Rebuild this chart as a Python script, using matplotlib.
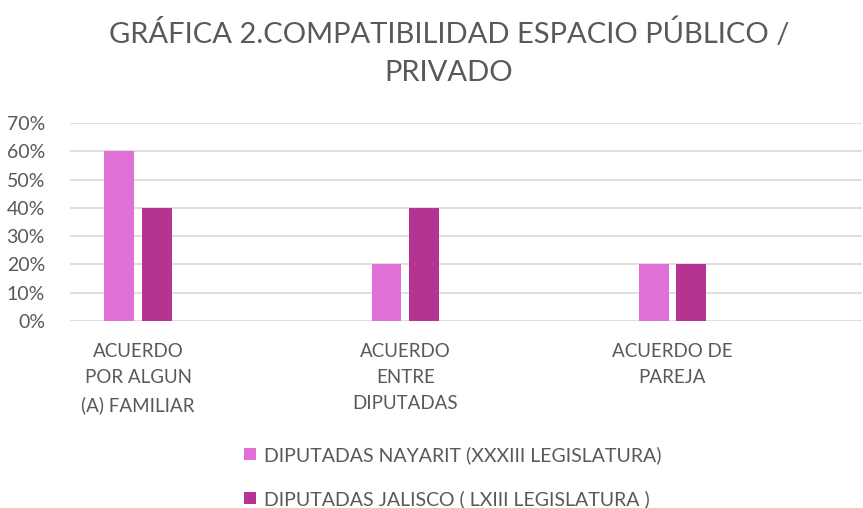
import matplotlib.pyplot as plt
import numpy as np
from matplotlib.ticker import PercentFormatter

categorias = ["ACUERDO\nPOR ALGUN\n(A) FAMILIAR", "ACUERDO\nENTRE\nDIPUTADAS", "ACUERDO DE\nPAREJA"]
nayarit = [0.60, 0.20, 0.20]
jalisco = [0.40, 0.40, 0.20]
series = ["DIPUTADAS NAYARIT (XXXIII LEGISLATURA)", "DIPUTADAS JALISCO ( LXIII LEGISLATURA )"]

gris = "#595959"
plt.rcParams['font.family'] = ['Lato', 'DejaVu Sans']

fig = plt.figure(figsize=(8.63, 5.08), dpi=100)
ax = fig.add_axes([0.081, 0.368, 0.918, 0.39])

x = np.arange(len(categorias))
w = 0.112
ax.bar(x - 0.07, nayarit, w, color="#E070D5", label=series[0], zorder=3)
ax.bar(x + 0.07, jalisco, w, color="#B53491", label=series[1], zorder=3)

ax.set_xlim(-0.255, 2.71)
ax.set_ylim(0, 0.7)
ax.set_yticks(np.arange(0, 0.71, 0.1))
ax.yaxis.set_major_formatter(PercentFormatter(1.0, decimals=0))
ax.grid(axis="y", color="#D9D9D9", linewidth=1.2, zorder=0)
for s in ax.spines.values():
    s.set_visible(False)
ax.tick_params(axis="y", length=0, labelsize=14, labelcolor=gris, pad=18)
ax.set_xticks(x)
ax.set_xticklabels(categorias, fontsize=13.5, color=gris, linespacing=1.65)
ax.tick_params(axis="x", length=0, pad=16)

fig.text(0.52, 0.935, "GRÁFICA 2.COMPATIBILIDAD ESPACIO PÚBLICO /", ha="center", va="center",
         fontsize=21, color=gris)
fig.text(0.52, 0.856, "PRIVADO", ha="center", va="center", fontsize=21, color=gris)

fig.legend(loc="upper left", bbox_to_anchor=(0.283, 0.122), frameon=False, fontsize=14,
           labelcolor=gris, handlelength=0.6, handleheight=0.6, handletextpad=0.4,
           labelspacing=1.35, borderaxespad=0, borderpad=0)

fig.savefig("out.png", dpi=100)
